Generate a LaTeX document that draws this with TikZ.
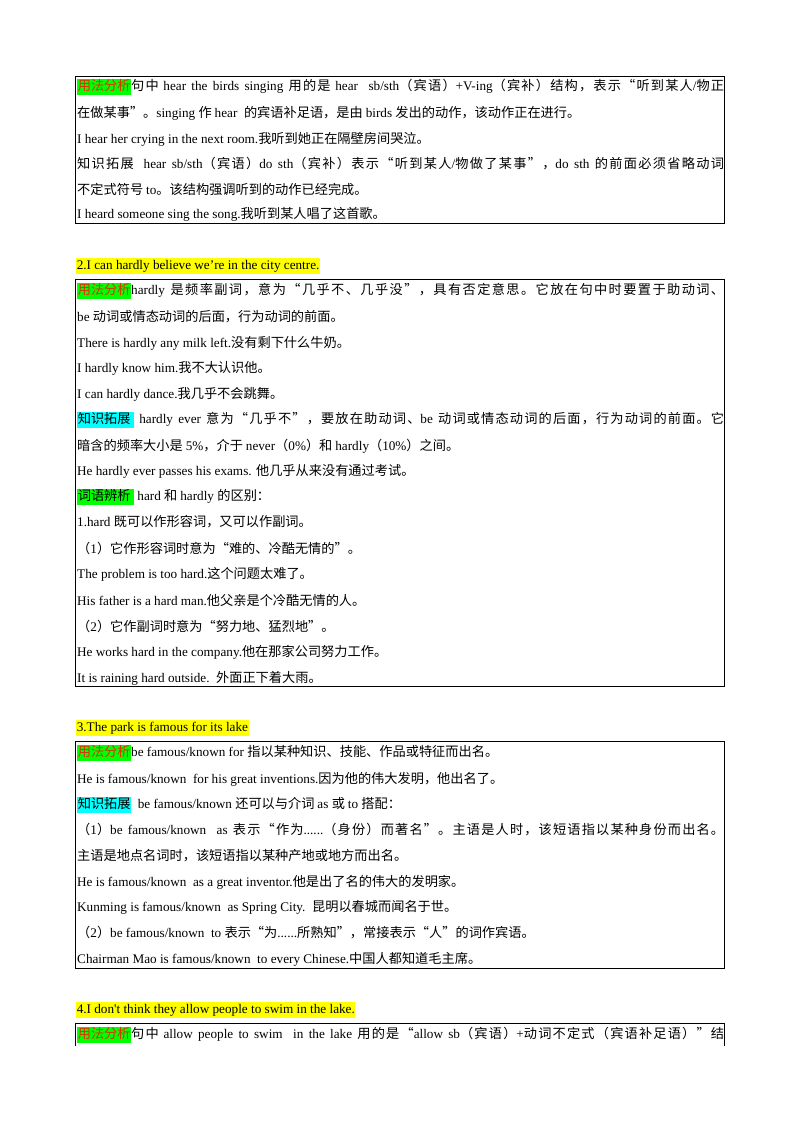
\documentclass[tikz,border=0pt]{standalone}
\usepackage{fontspec}
\setmainfont{Liberation Serif}
\newfontfamily\cjk{Noto Sans CJK SC}
\newfontfamily\lat{Liberation Serif}
\XeTeXinterchartokenstate=1
\newXeTeXintercharclass\cjkcls
\newcount\cc
\cc="4E00 \loop\XeTeXcharclass\cc=\cjkcls \advance\cc1 \ifnum\cc<"A000 \repeat
\cc="3000 \loop\XeTeXcharclass\cc=\cjkcls \advance\cc1 \ifnum\cc<"3040 \repeat
\cc="FF00 \loop\XeTeXcharclass\cc=\cjkcls \advance\cc1 \ifnum\cc<"FF60 \repeat
\XeTeXcharclass"201C=\cjkcls \XeTeXcharclass"201D=\cjkcls
\XeTeXinterchartoks 0 \cjkcls={\cjk}
\XeTeXinterchartoks 4095 \cjkcls={\cjk}
\XeTeXinterchartoks 4095 0={\lat}
\XeTeXinterchartoks \cjkcls 0={\lat}
\XeTeXinterchartoks \cjkcls \cjkcls={\hskip0pt plus 1pt\relax}
\definecolor{hgreen}{RGB}{0,255,0}
\definecolor{hcyan}{RGB}{0,255,255}
\definecolor{hyel}{RGB}{255,255,0}
\definecolor{hred}{RGB}{220,50,0}
\newcommand\hl[2]{{\setlength\fboxsep{0.6pt}\colorbox{#1}{\strut #2}}}
\newcommand\fl[1]{\hbox to 647pt{#1}}
\begin{document}
\begin{tikzpicture}[x=1pt,y=-1pt,
 ln/.style={anchor=west,inner sep=0pt,font=\fontsize{13.2}{15}\selectfont},
 bx/.style={draw=black,line width=0.8pt}]
\useasboundingbox (0,0) rectangle (800,1132);
% box 1
\draw[bx] (75,76) rectangle (724,223);
\node[ln] (a1) at (77,87) {\fl{\hl{hgreen}{\textcolor{hred}{用法分析}}句中 hear the birds singing 用的是 hear\ \ sb/sth（宾语）+V-ing（宾补）结构，表示“听到某人/物正}};
\node[ln] (a2) at (77,113) {在做某事”。singing 作 hear\ \ 的宾语补足语，是由 birds 发出的动作，该动作正在进行。};
\node[ln] (a3) at (77,139) {I hear her crying in the next room.我听到她正在隔壁房间哭泣。};
\node[ln] (a4) at (77,164) {\fl{知识拓展\ \ hear sb/sth（宾语）do sth（宾补）表示“听到某人/物做了某事”，do sth 的前面必须省略动词}};
\node[ln] (a5) at (77,189) {不定式符号 to。该结构强调听到的动作已经完成。};
\node[ln] (a6) at (77,214) {I heard someone sing the song.我听到某人唱了这首歌。};
% heading 2
\node[ln] (h2) at (76,266) {\hl{hyel}{2.I can hardly believe we’re in the city centre.}};
\draw[bx] (75,279) rectangle (724,686);
\node[ln] (b1) at (77,291) {\fl{\hl{hgreen}{\textcolor{hred}{用法分析}}hardly 是频率副词，意为“几乎不、几乎没”，具有否定意思。它放在句中时要置于助动词、}};
\node[ln] (b2) at (77,317) {be 动词或情态动词的后面，行为动词的前面。};
\node[ln] (b3) at (77,343) {There is hardly any milk left.没有剩下什么牛奶。};
\node[ln] (b4) at (77,368) {I hardly know him.我不大认识他。};
\node[ln] (b5) at (77,394) {I can hardly dance.我几乎不会跳舞。};
\node[ln] (b6) at (77,420) {\fl{\hl{hcyan}{知识拓展\ }\ hardly ever 意为“几乎不”，要放在助动词、be 动词或情态动词的后面，行为动词的前面。它}};
\node[ln] (b7) at (77,446) {暗含的频率大小是 5\%，介于 never（0\%）和 hardly（10\%）之间。};
\node[ln] (b8) at (77,471) {He hardly ever passes his exams. 他几乎从来没有通过考试。};
\node[ln] (b9) at (77,497) {\hl{hgreen}{词语辨析\ }\ hard 和 hardly 的区别：};
\node[ln] (b10) at (77,522) {1.hard 既可以作形容词，又可以作副词。};
\node[ln] (b11) at (77,548) {（1）它作形容词时意为“难的、冷酷无情的”。};
\node[ln] (b12) at (77,574) {The problem is too hard.这个问题太难了。};
\node[ln] (b13) at (77,600) {His father is a hard man.他父亲是个冷酷无情的人。};
\node[ln] (b14) at (77,626) {（2）它作副词时意为“努力地、猛烈地”。};
\node[ln] (b15) at (77,652) {He works hard in the company.他在那家公司努力工作。};
\node[ln] (b16) at (77,678) {It is raining hard outside.\ \ 外面正下着大雨。};
% heading 3
\node[ln] (h3) at (76,728) {\hl{hyel}{3.The park is famous for its lake}};
\draw[bx] (75,741) rectangle (724,968);
\node[ln] (c1) at (77,753) {\hl{hgreen}{\textcolor{hred}{用法分析}}be famous/known for 指以某种知识、技能、作品或特征而出名。};
\node[ln] (c2) at (77,779) {He is famous/known\ \ for his great inventions.因为他的伟大发明，他出名了。};
\node[ln] (c3) at (77,805) {\hl{hcyan}{知识拓展}\ \ be famous/known 还可以与介词 as 或 to 搭配：};
\node[ln] (c4) at (77,830) {\fl{（1）be famous/known\ \ as 表示“作为......（身份）而著名”。主语是人时，该短语指以某种身份而出名。}};
\node[ln] (c5) at (77,856) {主语是地点名词时，该短语指以某种产地或地方而出名。};
\node[ln] (c6) at (77,882) {He is famous/known\ \ as a great inventor.他是出了名的伟大的发明家。};
\node[ln] (c7) at (77,907) {Kunming is famous/known\ \ as Spring City.\ \ 昆明以春城而闻名于世。};
\node[ln] (c8) at (77,933) {（2）be famous/known\ \ to 表示“为......所熟知”，常接表示“人”的词作宾语。};
\node[ln] (c9) at (77,959) {Chairman Mao is famous/known\ \ to every Chinese.中国人都知道毛主席。};
% heading 4
\node[ln] (h4) at (76,1010) {\hl{hyel}{4.I don't think they allow people to swim in the lake.}};
\draw[bx] (75,1046) -- (75,1023) -- (724,1023) -- (724,1046);
\node[ln] (d1) at (77,1035) {\fl{\hl{hgreen}{\textcolor{hred}{用法分析}}句中 allow people to swim\ \ in the lake 用的是“allow sb（宾语）+动词不定式（宾语补足语）”结}};
\end{tikzpicture}
\end{document}
